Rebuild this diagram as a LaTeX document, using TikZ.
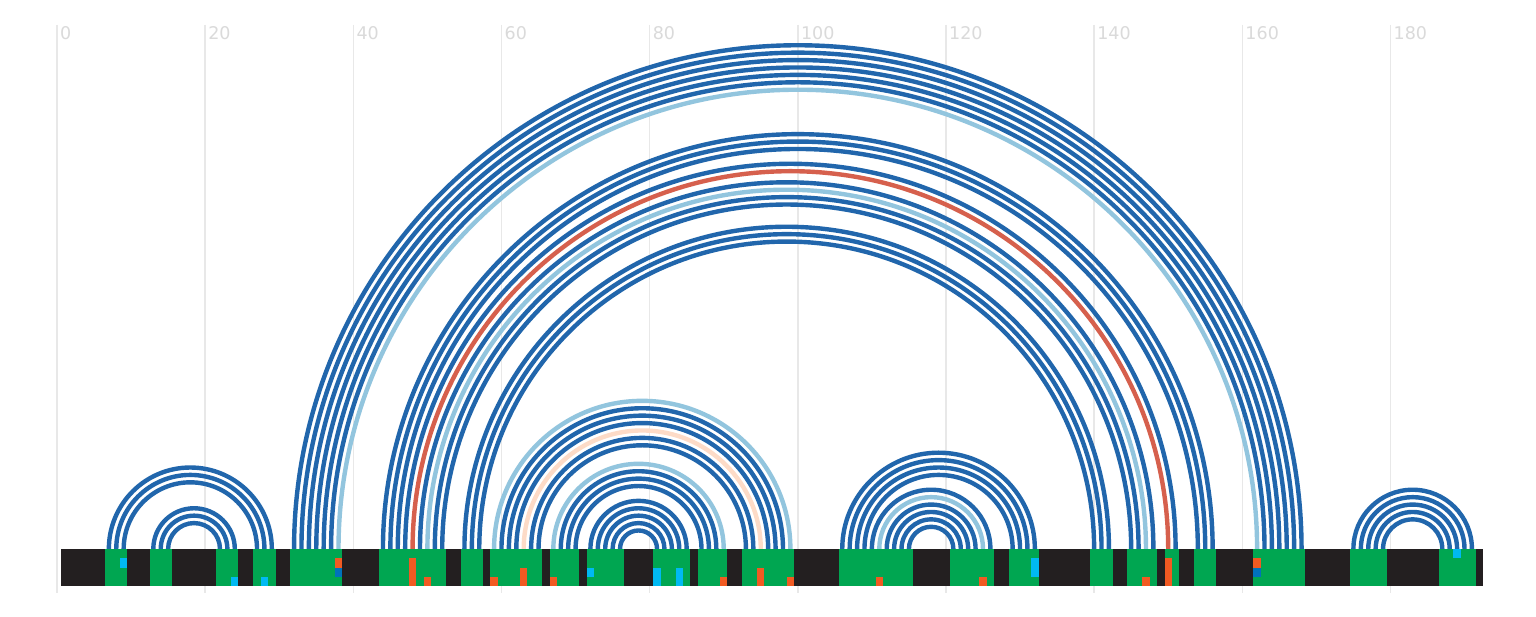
\documentclass[tikz,border=0pt]{standalone}
\usepackage{fontspec}
\setmainfont{DejaVu Sans}
\definecolor{arcdark}{HTML}{2166AC}
\definecolor{arclight}{HTML}{92C5DE}
\definecolor{arcred}{HTML}{D6604D}
\definecolor{arcpeach}{HTML}{FDDBC7}
\definecolor{barblack}{HTML}{231F20}
\definecolor{bargreen}{HTML}{00A651}
\definecolor{markorange}{HTML}{F15A22}
\definecolor{markcyan}{HTML}{00B9F2}
\definecolor{markblue}{HTML}{0072BC}
\definecolor{gridgray}{HTML}{E8E8E8}
\definecolor{labgray}{HTML}{DADADA}
\begin{document}
\begin{tikzpicture}[x=1pt,y=1pt,
  arcD/.style={draw=arcdark,line width=4.4pt},
  arcL/.style={draw=arclight,line width=4.4pt},
  arcR/.style={draw=arcred,line width=4.4pt},
  arcP/.style={draw=arcpeach,line width=4.4pt},
  grid/.style={draw=gridgray,line width=1.4pt},
  lab/.style={text=labgray,font=\fontsize{17.5}{20}\selectfont,inner sep=0pt,anchor=base west}]
\useasboundingbox (0,0) rectangle (1536,616);
\fill[white] (0,0) rectangle (1536,616);
% grid and labels
\foreach \v in {0,20,...,180}{
  \coordinate (gt\v) at ({57+7.408*\v},591);
  \coordinate (gb\v) at ({57+7.408*\v},23);
  \draw[grid] (gt\v) -- (gb\v);
  \node[lab] (t\v) at ({57+7.408*\v+3},576.5) {\v};
}
% nucleotide anchors
\foreach \i in {1,...,192}{\coordinate (n\i) at ({57+7.408*\i},67);}
% arcs
\foreach \a/\b in {7/29,8/28,9/27,13/24,14/23,15/22,
  32/168,33/167,34/166,35/165,36/164,37/163,
  44/156,45/155,46/154,47/151,49/148,51/146,52/145,
  55/142,56/141,57/140,
  60/98,61/97,62/96,64/94,65/93,
  68/89,69/88,70/87,
  72/85,73/84,74/83,75/82,76/81,
  106/132,107/131,108/130,109/129,
  110/126,112/124,113/123,114/122,115/121,
  175/191,176/190,177/189,178/188,179/187}
  {\draw[arcD] (n\a) arc[start angle=180,end angle=0,radius={(\b-\a)*3.704pt}];}
\foreach \a/\b in {38/162,50/147,59/99,67/90,111/125}
  {\draw[arcL] (n\a) arc[start angle=180,end angle=0,radius={(\b-\a)*3.704pt}];}
\foreach \a/\b in {48/150}
  {\draw[arcR] (n\a) arc[start angle=180,end angle=0,radius={(\b-\a)*3.704pt}];}
\foreach \a/\b in {63/95}
  {\draw[arcP] (n\a) arc[start angle=180,end angle=0,radius={(\b-\a)*3.704pt}];}
% bar
\fill[barblack] (60.7,30) rectangle (1483.2,67);
\foreach \a/\b in {7/9,13/15,22/24,27/29,32/38,44/52,55/57,59/65,67/70,72/76,
  81/85,87/90,93/99,106/115,121/126,129/132,140/142,145/148,150/151,154/156,
  162/168,175/179,187/191}
  {\fill[bargreen] ({57+7.408*(\a-0.5)},30) rectangle ({57+7.408*(\b+0.5)},67);}
% marks
\foreach \i/\r/\h in {38/1/1,48/1/3,50/3/1,59/3/1,63/2/2,67/3/1,90/3/1,95/2/2,99/3/1,
  111/3/1,125/3/1,147/3/1,150/1/3,162/1/1}
  {\fill[markorange] ({57+7.408*(\i-0.5)},{67-9.25*(\r+\h)}) rectangle ++(7.408,{9.25*\h});}
\foreach \i/\r/\h in {38/2/1,162/2/1}
  {\fill[markblue] ({57+7.408*(\i-0.5)},{67-9.25*(\r+\h)}) rectangle ++(7.408,{9.25*\h});}
\foreach \i/\r/\h in {9/1/1,24/3/1,28/3/1,72/2/1,81/2/2,84/2/2,132/1/2,189/0/1}
  {\fill[markcyan] ({57+7.408*(\i-0.5)},{67-9.25*(\r+\h)}) rectangle ++(7.408,{9.25*\h});}
\end{tikzpicture}
\end{document}
